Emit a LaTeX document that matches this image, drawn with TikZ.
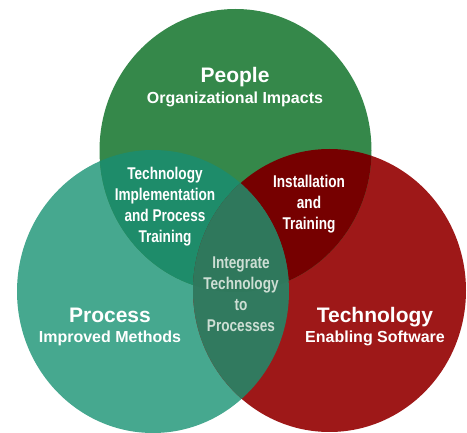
\documentclass[tikz,border=0pt]{standalone}
\usepackage{fontspec}
\setmainfont{Liberation Sans}
\newfontfamily\narrowfont[FakeStretch=0.8]{Liberation Sans}
\definecolor{peoplegreen}{RGB}{53,136,74}
\definecolor{processteal}{RGB}{70,168,143}
\definecolor{techred}{RGB}{158,24,24}
\definecolor{gtmix}{RGB}{30,140,106}
\definecolor{grmix}{RGB}{118,0,0}
\definecolor{trmix}{RGB}{49,122,95}
\definecolor{allmix}{RGB}{47,120,92}
\definecolor{centertext}{RGB}{205,222,212}
\tikzset{
  title/.style={text=white, font=\bfseries\fontsize{21}{24}\selectfont, anchor=base, inner sep=0pt},
  subtitle/.style={text=white, font=\bfseries\fontsize{16}{19}\selectfont, anchor=base, inner sep=0pt},
  inner/.style={text=white, font=\narrowfont\bfseries\fontsize{17}{21.3}\selectfont, align=center, anchor=base, inner sep=0pt},
}
\begin{document}
\begin{tikzpicture}[x=1pt,y=-1pt]
\useasboundingbox (0,0) rectangle (467,433);
\def\gre{(235.5,150.5) ellipse [x radius=136, y radius=141.5]}
\def\tea{(153,291.5) ellipse [x radius=136, y radius=141.5]}
\def\red{(329.5,290.5) ellipse [x radius=136.5, y radius=141.5]}
\fill[processteal] \tea;
\fill[techred] \red;
\fill[peoplegreen] \gre;
\begin{scope}
  \clip \gre;
  \fill[gtmix] \tea;
  \fill[grmix] \red;
\end{scope}
\begin{scope}
  \clip \tea;
  \fill[trmix] \red;
  \clip \gre;
  \fill[allmix] \red;
\end{scope}
\node[title] (people) at (235,83) {People};
\node[subtitle] (peoplesub) at (235,104) {Organizational Impacts};
\node[title] (process) at (110,323) {Process};
\node[subtitle] (processsub) at (110,343) {Improved Methods};
\node[title] (tech) at (375,323) {Technology};
\node[subtitle] (techsub) at (375,343) {Enabling Software};
\node[inner] (gt) at (165,243) {Technology\\Implementation\\and Process\\Training};
\node[inner] (gr) at (309,230) {Installation\\and\\Training};
\node[inner, text=centertext] (all) at (241,332) {Integrate\\Technology\\to\\Processes};
\end{tikzpicture}
\end{document}
